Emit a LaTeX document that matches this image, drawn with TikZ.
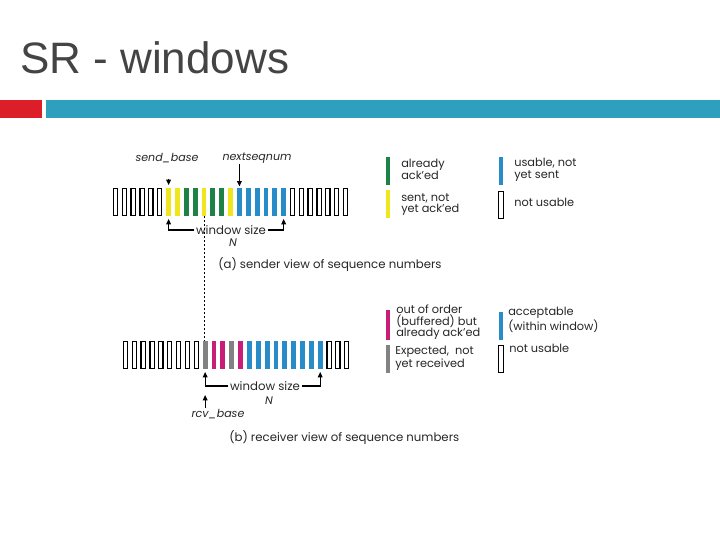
\documentclass[tikz,border=0pt]{standalone}
\usepackage{fontspec}
\setmainfont{Poppins}
\newfontfamily\titlefont{Liberation Sans}
\usetikzlibrary{arrows.meta}
\definecolor{cgreen}{RGB}{30,130,70}
\definecolor{cyellow}{RGB}{240,230,30}
\definecolor{cblue}{RGB}{40,140,200}
\definecolor{cmag}{RGB}{200,30,120}
\definecolor{cgray}{RGB}{130,130,130}
\definecolor{titlegray}{RGB}{68,68,68}
\definecolor{barred}{RGB}{220,30,40}
\definecolor{barblue}{RGB}{46,160,190}
\tikzset{
 barbase/.style={inner sep=0pt,minimum width=3.6pt,minimum height=21pt},
 bare/.style={barbase,draw=black,line width=0.9pt,fill=white,minimum width=3.2pt,minimum height=20pt},
 bary/.style={barbase,fill=cyellow},
 barg/.style={barbase,fill=cgreen},
 barb/.style={barbase,fill=cblue},
 barm/.style={barbase,fill=cmag},
 barr/.style={barbase,fill=cgray},
 lbl/.style={font=\fontsize{8.5}{8.6}\selectfont,inner sep=0pt,anchor=north west,align=left,text=black!85},
 ital/.style={font=\fontsize{8.3}{9}\selectfont\itshape,inner sep=0pt,text=black!85},
 arr/.style={-{Triangle[length=4pt,width=3.5pt]},line width=0.8pt},
 ln/.style={line width=0.8pt}
}
\begin{document}
\begin{tikzpicture}[x=0.75pt,y=-0.75pt]
\useasboundingbox (0,0) rectangle (720,540);
\node[anchor=west,inner sep=0pt,text=titlegray,font=\titlefont\fontsize{33}{35}\selectfont] (title) at (20,58) {SR - windows};
\fill[barred] (0,100) rectangle (42,118);
\fill[barblue] (46,100) rectangle (720,118);
% sender row
\foreach \c [count=\i] in {e,e,e,e,e,e,y,y,g,g,y,g,g,y,b,b,b,b,b,b,e,e,e,e,e,e,e}
  \node[bar\c] (s\i) at ({115.5+(\i-1)*8.85},202) {};
% receiver row
\foreach \c [count=\i] in {e,e,e,e,e,e,e,e,e,r,m,m,r,m,b,b,b,b,b,b,b,b,b,e,e,e}
  \node[bar\c] (r\i) at ({125.5+(\i-1)*8.85},355) {};
% sender labels
\node[ital] (sb) at (167,158) {send\_base};
\node[ital] (ns) at (257,158) {nextseqnum};
\draw[arr] (s7.north) ++(0,-9) coordinate (sbt) -- ([yshift=2pt]s7.north);
\draw[arr] (ns.south -| s15) -- ([yshift=1pt]s15.north);
\node[font=\fontsize{8.8}{9}\selectfont,inner sep=1pt,text=black!85] (ws1) at (231,230) {window size};
\node[ital] (n1) at (233,243) {N};
\draw[arr] (ws1.west) -| ([yshift=-2pt]s7.south);
\draw[arr] (ws1.east) -| ([yshift=-2pt]s20.south);
\node[anchor=west,font=\fontsize{8.8}{9}\selectfont,inner sep=0pt,text=black!85] (capa) at (218,265) {(a) sender view of sequence numbers};
\draw[dashed,line width=0.7pt,dash pattern=on 1.5pt off 1.5pt] (s11.south) -- (s11.south |- r4.north);
% receiver labels
\node[font=\fontsize{8.8}{9}\selectfont,inner sep=1pt,text=black!85] (ws2) at (265,386) {window size};
\node[ital] (n2) at (269,401) {N};
\draw[arr] (ws2.west) -| ([yshift=-2pt]r10.south);
\draw[arr] (ws2.east) -| ([yshift=-2pt]r23.south);
\node[ital] (rb) at (218,414) {rcv\_base};
\draw[arr] (rb.north -| r10) ++(0,-1) -- ++(0,-13);
\node[anchor=west,font=\fontsize{8.8}{9}\selectfont,inner sep=0pt,text=black!85] (capb) at (229,438) {(b) receiver view of sequence numbers};
% sender legend
\node[barg,minimum height=21pt] (lg) at (388,171) {};
\node[lbl] (tg) at (401,159) {already\\ack'ed};
\node[bary,minimum height=21pt] (ly) at (388,204) {};
\node[lbl] (ty) at (401,193) {sent, not\\yet ack'ed};
\node[barb,minimum height=21pt] (lb) at (501,171) {};
\node[lbl] (tb) at (514,158) {usable, not\\yet sent};
\node[bare] (le) at (501,205) {};
\node[lbl] (te) at (514,198) {not usable};
% receiver legend
\node[barm,minimum height=22pt] (lm) at (388,325) {};
\node[lbl] (tm) at (396,305) {out of order\\(buffered) but\\already ack'ed};
\node[barr,minimum height=21pt] (lr) at (388,359) {};
\node[lbl] (tr) at (395,346) {Expected,\ \ not\\yet received};
\node[barb,minimum height=21pt] (lb2) at (501,326) {};
\node[lbl] (tb2) at (508,307) {acceptable\\(within window)};
\node[bare] (le2) at (501,359) {};
\node[lbl] (te2) at (509,344) {not usable};
\end{tikzpicture}
\end{document}
